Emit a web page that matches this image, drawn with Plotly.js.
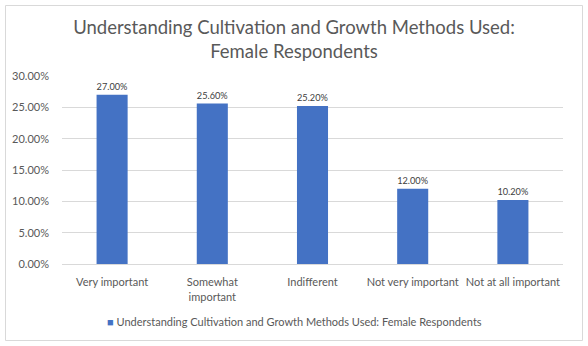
<!DOCTYPE html>
<html><head><meta charset="utf-8">
<script src="https://cdn.plot.ly/plotly-3.0.1.min.js"></script>
<style>html,body{margin:0;padding:0;background:#fff}#chart{width:588px;height:346px}</style>
</head><body><div id="chart"></div>
<script>
const categories = ["Very important", "Somewhat<br>important", "Indifferent", "Not very important", "Not at all important"];
const values = [0.27, 0.256, 0.252, 0.12, 0.102];
const seriesName = "Understanding Cultivation and Growth Methods Used: Female Respondents";
const titleText = "Understanding Cultivation and Growth Methods Used:<br>Female Respondents";

const L = 62, R = 25, T = 76, B = 82, W = 588, H = 346;
const pw = W - L - R, ph = H - T - B;
const px = x => (x - L) / pw;
const py = y => (H - B - y) / ph;
const FONT = "Lato, 'Open Sans', sans-serif";

const trace = {
  type: "bar", x: categories, y: values, name: seriesName,
  marker: {color: "#4472C4"},
  texttemplate: "%{y:.2%}", textposition: "outside", cliponaxis: false,
  textfont: {family: FONT, size: 11, color: "#404040"},
  showlegend: false
};
const layout = {
  width: W, height: H,
  margin: {l: L, r: R, t: T, b: B},
  paper_bgcolor: "#fff", plot_bgcolor: "#fff",
  font: {family: FONT, color: "#595959", size: 11},
  title: {text: titleText, x: 0.5, xanchor: "center", yref: "container", y: 1 - 34 / H, yanchor: "middle",
          font: {family: FONT, size: 18.5, color: "#595959"}},
  bargap: 0.69,
  showlegend: false,
  xaxis: {type: "category", showline: true, linecolor: "#D9D9D9", ticks: "", ticklabelstandoff: 8,
          tickfont: {size: 11, color: "#595959"}},
  yaxis: {range: [0, 0.3], dtick: 0.05, tickformat: ".2%", showgrid: true, gridcolor: "#D9D9D9",
          zeroline: false, ticks: "", ticklabelstandoff: 12, tickfont: {size: 11, color: "#595959"}},
  annotations: [{xref: "paper", yref: "paper", x: px(294), y: py(321), xanchor: "center", yanchor: "middle",
                 showarrow: false, font: {size: 11, color: "#595959"},
                 text: '<span style="color:#4472C4">■</span> ' + seriesName}],
  shapes: [{type: "rect", xref: "paper", yref: "paper", x0: px(5.5), x1: px(582.5), y0: py(340.5), y1: py(5.5),
            line: {color: "#D9D9D9", width: 1}, fillcolor: "rgba(0,0,0,0)", layer: "below"}]
};
Plotly.newPlot("chart", [trace], layout, {displayModeBar: false, staticPlot: true});
</script></body></html>
